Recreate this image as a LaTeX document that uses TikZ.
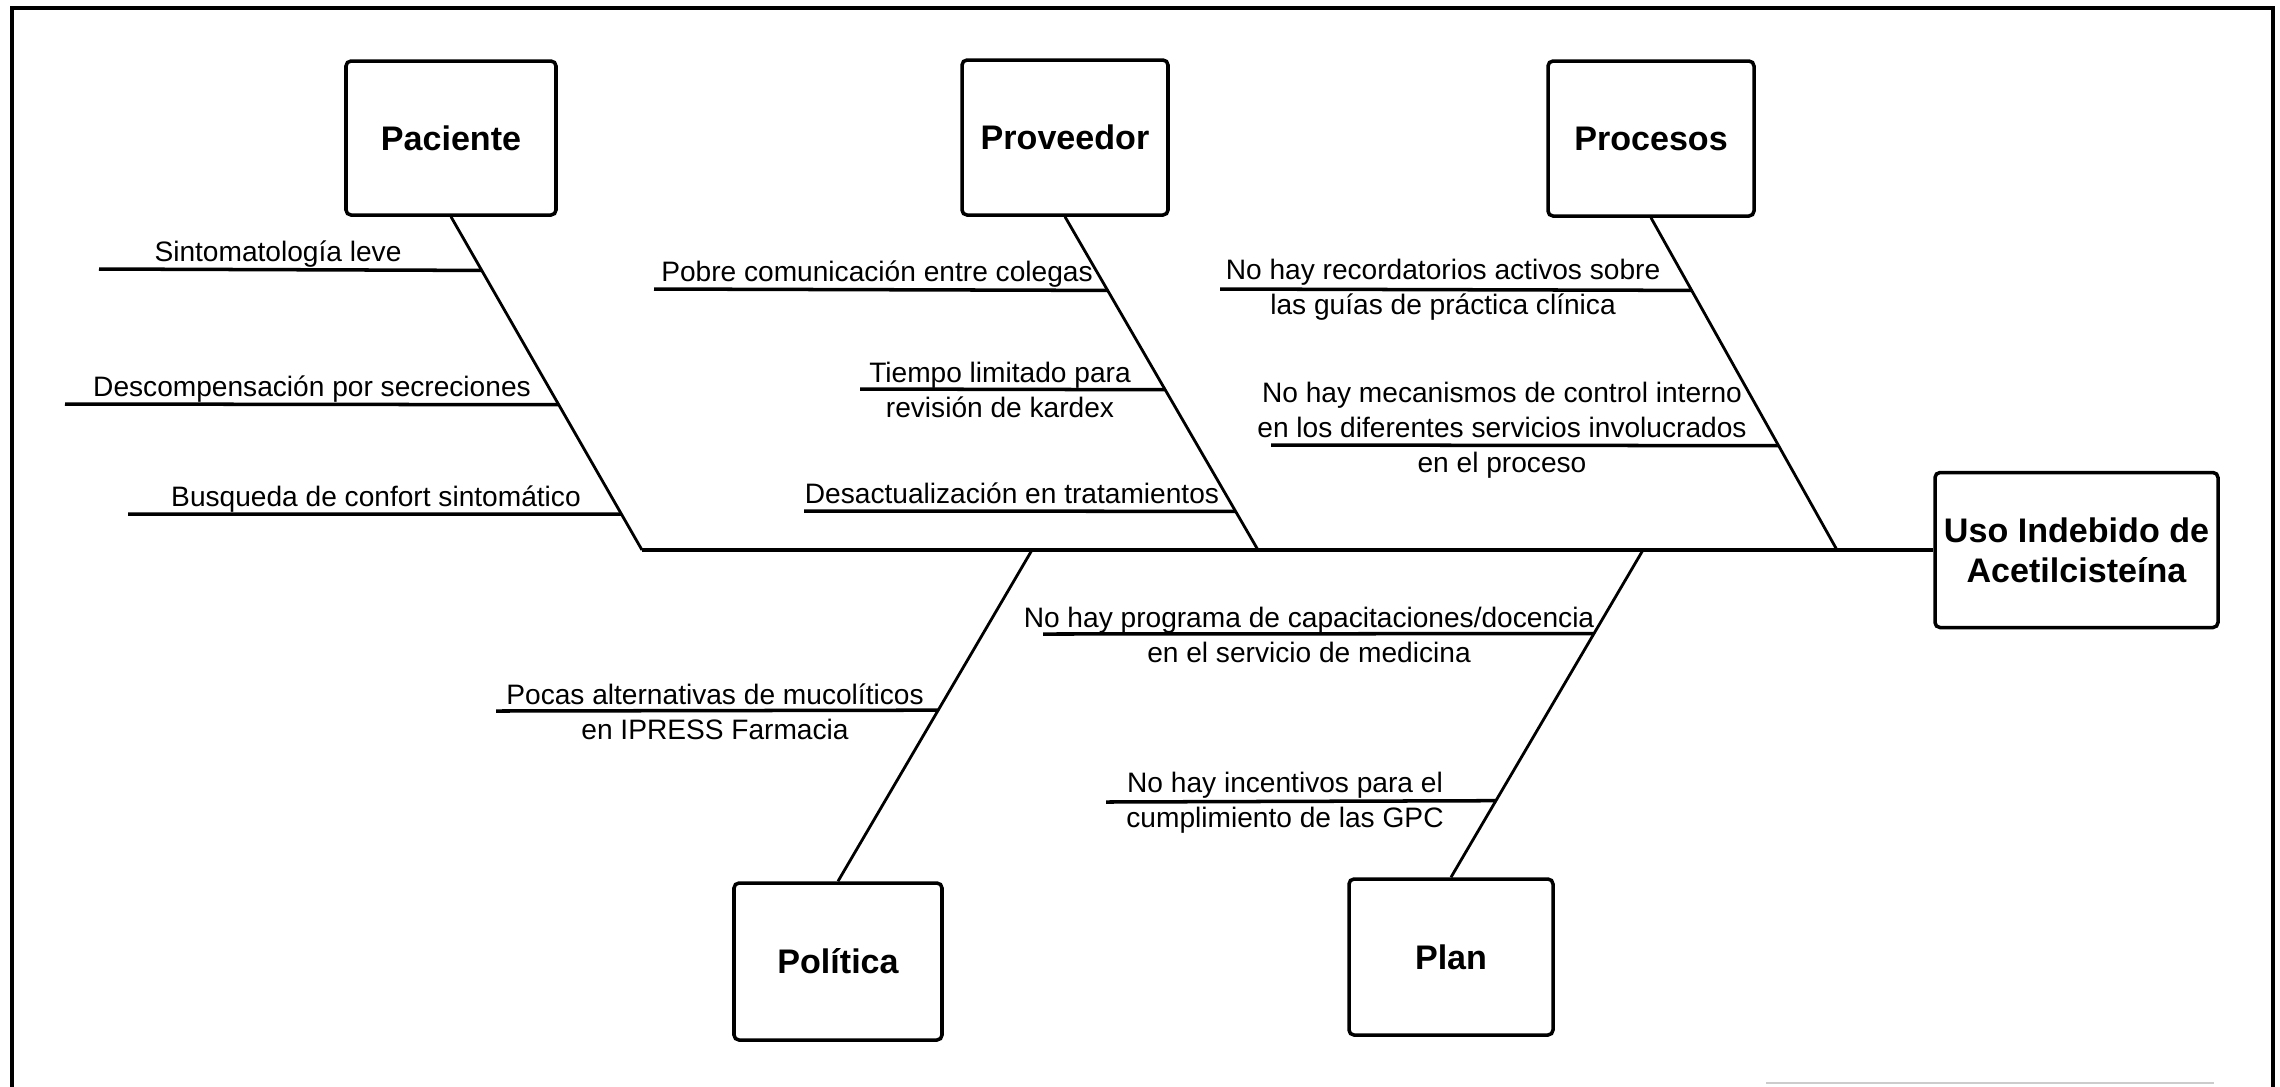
\documentclass[tikz,border=0pt]{standalone}
\usepackage{fontspec}
\setmainfont{Liberation Sans}
\usetikzlibrary{calc}
\tikzset{
  catbox/.style={draw=black, line width=1pt, rounded corners=0.5mm, fill=white,
    font=\fontsize{9.7}{11.4}\selectfont\bfseries, align=center, inner sep=0pt},
  bone/.style={line width=0.8pt},
  rib/.style={line width=1pt},
  lbl/.style={font=\fontsize{8}{9.9}\selectfont, align=center, inner sep=0pt},
}
\begin{document}
\begin{tikzpicture}[x=0.1mm,y=-0.1mm]
\useasboundingbox (0,0) rectangle (2280,1086);

% outer frame (open at the bottom)
\draw[line width=1.2pt] (12,1095) -- (12,8) -- (2273,8) -- (2273,1095);
\coordinate (f1) at (1766,1083);
\coordinate (f2) at (2214,1083);
\draw[gray!40, line width=0.6pt] (f1) -- (f2);

% category boxes and effect
\node[catbox, minimum width=21mm,   minimum height=15.4mm] (pac)  at (451,138)   {Paciente};
\node[catbox, minimum width=20.6mm, minimum height=15.5mm] (prov) at (1065,137.5) {Proveedor};
\node[catbox, minimum width=20.6mm, minimum height=15.5mm] (proc) at (1651,138.5) {Procesos};
\node[catbox, minimum width=28.3mm, minimum height=15.5mm] (uso)  at (2076.5,550) {Uso Indebido de\\Acetilcisteína};
\node[catbox, minimum width=20.8mm, minimum height=15.7mm] (pol)  at (838,961.5) {Política};
\node[catbox, minimum width=20.4mm, minimum height=15.6mm] (plan) at (1451,957)   {Plan};

% spine and main bones
\coordinate (sp1) at (642,550);
\coordinate (sp2) at (1258,550);
\coordinate (sp3) at (1837,550);
\coordinate (sp4) at (1032,550);
\coordinate (sp5) at (1643,550);
\draw[rib]  (sp1) -- (uso.west);
\draw[bone] (pac.south)  -- (sp1);
\draw[bone] (prov.south) -- (sp2);
\draw[bone] (proc.south) -- (sp3);
\draw[bone] (sp4) -- (pol.north);
\draw[bone] (sp5) -- (plan.north);

% Paciente
\coordinate (r1) at (99,269);
\coordinate (r2) at (65,404);
\coordinate (r3) at (128,514);
\draw[rib] (r1) -- ($(pac.south)!0.161!(sp1)$);
\draw[rib] (r2) -- ($(pac.south)!0.564!(sp1)$);
\draw[rib] (r3) -- ($(pac.south)!0.8925!(sp1)$);
\node[lbl, anchor=base] (t1) at (278,261) {Sintomatología leve};
\node[lbl, anchor=base] (t2) at (312,396) {Descompensación por secreciones};
\node[lbl, anchor=base] (t3) at (376,506) {Busqueda de confort sintomático};

% Proveedor
\coordinate (r4) at (654,289);
\coordinate (r5) at (860,389);
\coordinate (r6) at (804,511);
\draw[rib] (r4) -- ($(prov.south)!0.221!(sp2)$);
\draw[rib] (r5) -- ($(prov.south)!0.519!(sp2)$);
\draw[rib] (r6) -- ($(prov.south)!0.884!(sp2)$);
\node[lbl, anchor=base] (t4) at (877,281) {Pobre comunicación entre colegas};
\node[lbl] (t5) at (1000,390) {Tiempo limitado para\\revisión de kardex};
\node[lbl, anchor=base] (t6) at (1012,503) {Desactualización en tratamientos};

% Procesos
\coordinate (r7) at (1220,289);
\coordinate (r8) at (1271,445);
\draw[rib] (r7) -- ($(proc.south)!0.2186!(sp3)$);
\draw[rib] (r8) -- ($(proc.south)!0.686!(sp3)$);
\node[lbl] (t7) at (1443,290) {No hay recordatorios activos sobre\\las guías de práctica clínica};
\node[lbl] (t8) at (1502,430) {No hay mecanismos de control interno\\en los diferentes servicios involucrados\\en el proceso};

% Política
\coordinate (r9) at (496,711);
\draw[rib] (r9) -- ($(sp4)!0.4835!(pol.north)$);
\node[lbl] (t9) at (715,712) {Pocas alternativas de mucolíticos\\en IPRESS Farmacia};

% Plan
\coordinate (r10) at (1043,634);
\coordinate (r11) at (1106,802);
\draw[rib] (r10) -- ($(sp5)!0.2553!(plan.north)$);
\draw[rib] (r11) -- ($(sp5)!0.766!(plan.north)$);
\node[lbl] (t10) at (1309,635) {No hay programa de capacitaciones/docencia\\en el servicio de medicina};
\node[lbl] (t11) at (1285,803) {No hay incentivos para el\\cumplimiento de las GPC};
\end{tikzpicture}
\end{document}
